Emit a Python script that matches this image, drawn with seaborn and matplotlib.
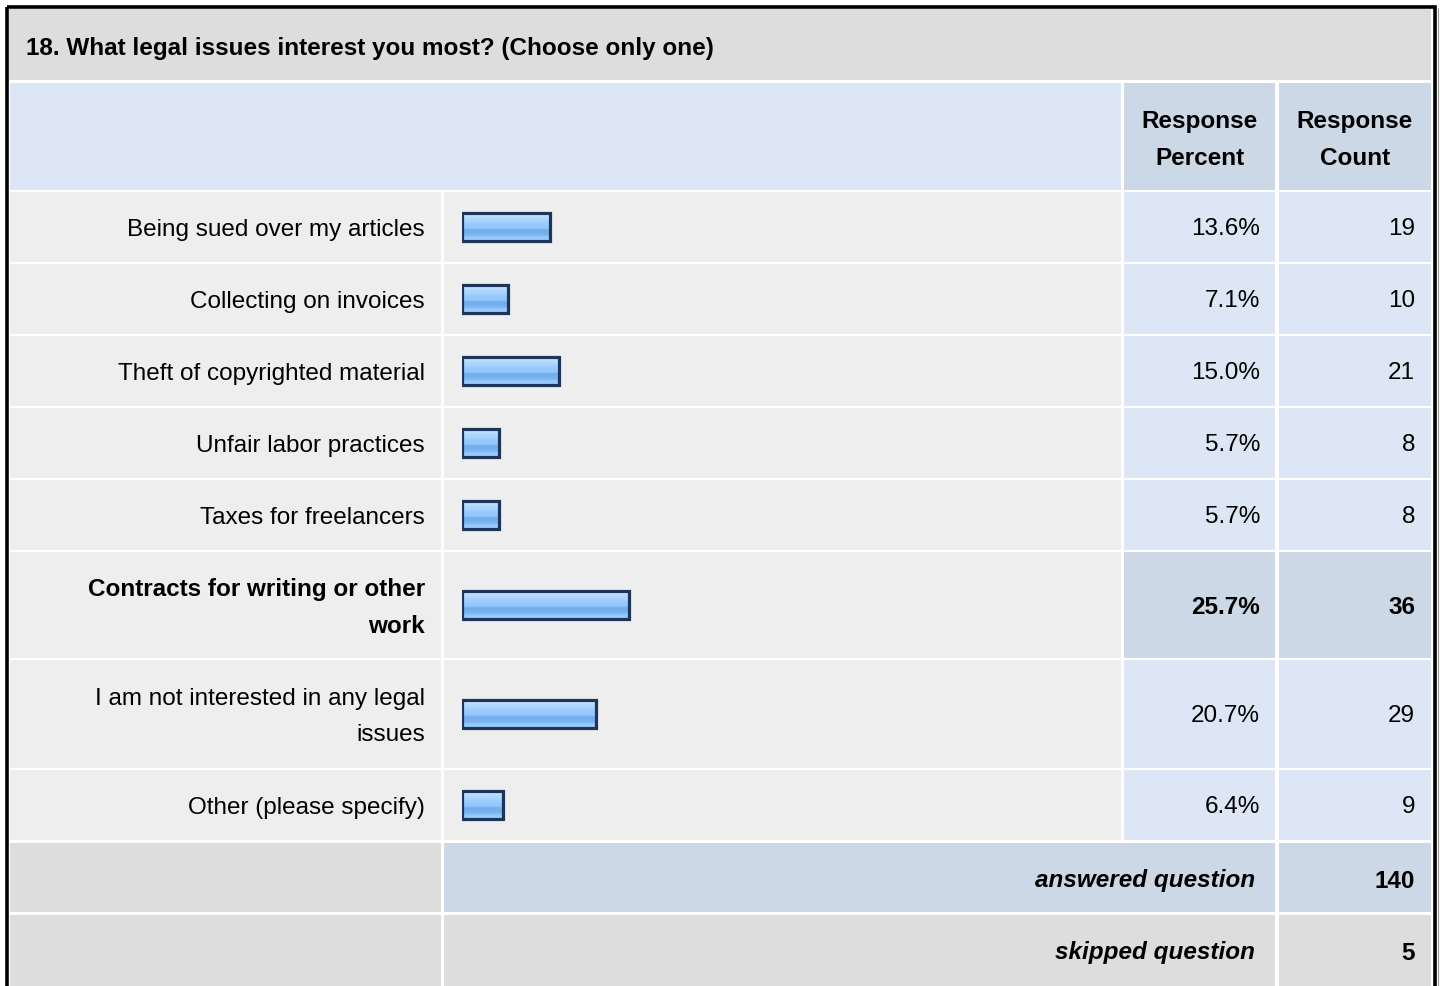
import numpy as np
import pandas as pd
import matplotlib
matplotlib.use("Agg")
import matplotlib.pyplot as plt
from matplotlib.patches import Rectangle
from matplotlib.colors import to_rgb
import seaborn as sns

question = "18. What legal issues interest you most? (Choose only one)"
answers = [
    "Being sued over my articles",
    "Collecting on invoices",
    "Theft of copyrighted material",
    "Unfair labor practices",
    "Taxes for freelancers",
    "Contracts for writing or other\nwork",
    "I am not interested in any legal\nissues",
    "Other (please specify)",
]
percents = [13.6, 7.1, 15.0, 5.7, 5.7, 25.7, 20.7, 6.4]
counts = [19, 10, 21, 8, 8, 36, 29, 9]
answered = 140
skipped = 5

df = pd.DataFrame({"answer": answers, "percent": percents, "count": counts})
top = int(df["count"].idxmax())

sns.set_theme(style="white")
plt.rcParams["font.family"] = ["Liberation Sans", "DejaVu Sans"]

W, H = 1440, 986
fig = plt.figure(figsize=(W / 100, H / 100), dpi=100)
ax = fig.add_axes([0, 0, 1, 1])
ax.set_xlim(0, W)
ax.set_ylim(H, 0)
ax.axis("off")

GREY = "#DDDDDD"
ROW = "#EEEEEE"
BLUE = "#DCE6F4"
BLUE2 = "#CCD8E6"
TXT = "#000000"
FS = 17.5
LS = 1.78

# column edges (pixels)
c_lab = (10, 441)
c_bar = (444, 1121)
c_pct = (1124, 1275)
c_cnt = (1279, 1431)


def cell(x0, x1, y0, y1, color):
    ax.add_patch(Rectangle((x0, y0), x1 - x0, y1 - y0, facecolor=color,
                           edgecolor="none", zorder=1))


# title row
cell(9, 1431, 9, 80, GREY)
ax.text(26, 48, question, fontsize=FS, fontweight="bold", color=TXT,
        va="center", ha="left", zorder=3)

# header row
cell(10, 1121, 83, 190, BLUE)
cell(*c_pct, 83, 190, BLUE2)
cell(*c_cnt, 83, 190, BLUE2)
ax.text((c_pct[0] + c_pct[1]) / 2, 140, "Response\nPercent", fontsize=FS,
        fontweight="bold", ha="center", va="center", linespacing=LS,
        color=TXT, zorder=3)
ax.text((c_cnt[0] + c_cnt[1]) / 2, 140, "Response\nCount", fontsize=FS,
        fontweight="bold", ha="center", va="center", linespacing=LS,
        color=TXT, zorder=3)

# gradient used to shade each bar
stops = [(0.0, "#D6EBFF"), (0.15, "#B6DBFF"), (0.35, "#9ECDFF"),
         (0.55, "#90C4F8"), (0.6, "#74ADEB"), (0.78, "#79B2EF"),
         (0.84, "#8FC6FA"), (1.0, "#A2D1FF")]
pos = np.linspace(0, 1, 60)
grad = np.stack([np.interp(pos, [s[0] for s in stops],
                           [to_rgb(s[1])[k] for s in stops]) for k in range(3)],
                axis=-1)[:, None, :]

row_h = [70, 70, 70, 70, 70, 106, 108, 70]
y = 192
bar_left, bar_span = 461.5, 650  # 650 px == 100 %
for i, r in df.iterrows():
    y0, y1 = y, y + row_h[i]
    ym = (y0 + y1) / 2
    bold = "bold" if i == top else "normal"
    cell(*c_lab, y0, y1, ROW)
    cell(*c_bar, y0, y1, ROW)
    cell(*c_pct, y0, y1, BLUE2 if i == top else BLUE)
    cell(*c_cnt, y0, y1, BLUE2 if i == top else BLUE)
    ax.text(425, ym + 3, r["answer"], fontsize=FS, fontweight=bold, ha="right",
            va="center", linespacing=LS, color=TXT, zorder=3)
    ax.text(1260, ym + 2, f"{r['percent']:.1f}%", fontsize=FS, fontweight=bold,
            ha="right", va="center", color=TXT, zorder=3)
    ax.text(1415, ym + 2, f"{r['count']}", fontsize=FS, fontweight=bold,
            ha="right", va="center", color=TXT, zorder=3)

    # bar for this answer
    bh = 40
    bax = fig.add_axes([bar_left / W, 1 - (ym + bh / 2) / H, bar_span / W, bh / H])
    sns.barplot(x=[r["percent"]], y=[r["answer"]], orient="h", ax=bax,
                width=0.7, color="#99CCFF", edgecolor="#1C3559", linewidth=2.3)
    for p in bax.patches:
        px, py, pw, ph = p.get_x(), p.get_y(), p.get_width(), p.get_height()
        im = bax.imshow(grad, extent=[px, px + pw, py + ph, py], aspect="auto",
                        interpolation="bilinear", zorder=2)
        im.set_clip_path(p)
        p.set_facecolor("none")
        p.set_zorder(3)
    bax.set_xlim(0, 100)
    bax.set_ylim(0.5, -0.5)
    bax.axis("off")
    bax.patch.set_alpha(0)

    y = y1 + 2

# summary rows
ya0, ya1 = 843, 912
cell(*c_lab, ya0, ya1, GREY)
cell(444, 1275, ya0, ya1, BLUE2)
cell(*c_cnt, ya0, ya1, BLUE2)
ax.text(1255, 881, "answered question", fontsize=FS,
        fontweight="bold", fontstyle="italic", ha="right", va="center",
        color=TXT, zorder=3)
ax.text(1415, 881, f"{answered}", fontsize=FS, fontweight="bold",
        ha="right", va="center", color=TXT, zorder=3)

ys0, ys1 = 915, 990
cell(*c_lab, ys0, ys1, GREY)
cell(444, 1275, ys0, ys1, GREY)
cell(*c_cnt, ys0, ys1, GREY)
ax.text(1255, 953, "skipped question", fontsize=FS, fontweight="bold",
        fontstyle="italic", ha="right", va="center", color=TXT, zorder=3)
ax.text(1415, 953, f"{skipped}", fontsize=FS, fontweight="bold",
        ha="right", va="center", color=TXT, zorder=3)

# outer frame
ax.add_patch(Rectangle((6.5, 6.5), 1428, 1000, facecolor="none",
                       edgecolor="#000000", linewidth=2.6, zorder=5))
ax.plot([1437.5, 1437.5], [8, H], color="#999999", lw=0.8, zorder=5)

fig.savefig("out.png", dpi=100, facecolor="white")
